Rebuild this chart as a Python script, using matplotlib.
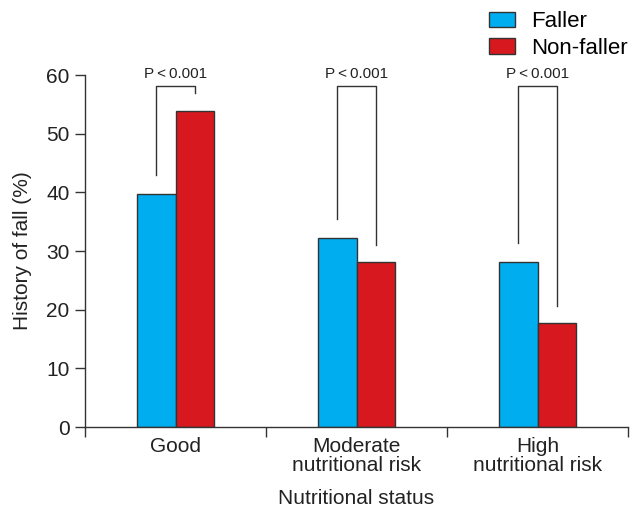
import matplotlib
matplotlib.use("Agg")
import matplotlib.pyplot as plt
import numpy as np

categories = ["Good", "Moderate\nnutritional risk", "High\nnutritional risk"]
faller = [39.8, 32.2, 28.2]
non_faller = [53.9, 28.1, 17.7]
p_labels = ["P\u2009<\u20090.001", "P\u2009<\u20090.001", "P\u2009<\u20090.001"]
yticks = [0, 10, 20, 30, 40, 50, 60]

plt.rcParams['font.family'] = ['Liberation Sans', 'DejaVu Sans']
blue = "#00AEEF"
red = "#D7191F"
edge = "#333333"

fig = plt.figure(figsize=(6.31, 5.11), dpi=100)
ax = fig.add_axes([85/631, 84/511, 543/631, 352/511])

x = np.arange(len(categories))
w = 0.21
ax.bar(x - w/2, faller, w, color=blue, edgecolor=edge, linewidth=1.0, label="Faller")
ax.bar(x + w/2, non_faller, w, color=red, edgecolor=edge, linewidth=1.0, label="Non-faller")

top = 58.1
for i in range(len(categories)):
    xl, xr = x[i] - w/2, x[i] + w/2
    yl, yr = faller[i] + 3.2, non_faller[i] + 3.0
    ax.plot([xl, xl, xr, xr], [yl, top, top, yr], color=edge, lw=1.0, clip_on=False)
    ax.text(x[i], top + 0.9, p_labels[i], ha="center", va="bottom", fontsize=11, color="#222222")

ax.set_xlim(-0.5, 2.5)
ax.set_ylim(0, 60)
ax.set_yticks(yticks)
ax.set_xticks([-0.5, 0.5, 1.5, 2.5])
ax.set_xticklabels([])
ax.set_xticks(x, minor=True)
ax.set_xticklabels(categories, minor=True, fontsize=15, linespacing=1.0)
ax.tick_params(axis="x", which="minor", length=0, pad=7, colors="#222222")
ax.tick_params(axis="x", which="major", direction="out", length=7, width=1.0, color=edge)
ax.tick_params(axis="y", direction="out", length=7, width=1.0, color=edge, labelsize=15, labelcolor="#222222", pad=4)
for s in ["top", "right"]:
    ax.spines[s].set_visible(False)
for s in ["left", "bottom"]:
    ax.spines[s].set_color(edge)
    ax.spines[s].set_linewidth(1.0)

ax.set_ylabel("History of fall (%)", fontsize=15, color="#222222", labelpad=10)
ax.set_xlabel("Nutritional status", fontsize=15, color="#222222", labelpad=10)

fig.legend(loc="upper right", bbox_to_anchor=(1.012, 1.0), frameon=False, fontsize=16,
           handlelength=1.2, handleheight=0.7, handletextpad=0.7, labelspacing=0.25,
           borderaxespad=0.1)

fig.savefig("out.png", dpi=100)
